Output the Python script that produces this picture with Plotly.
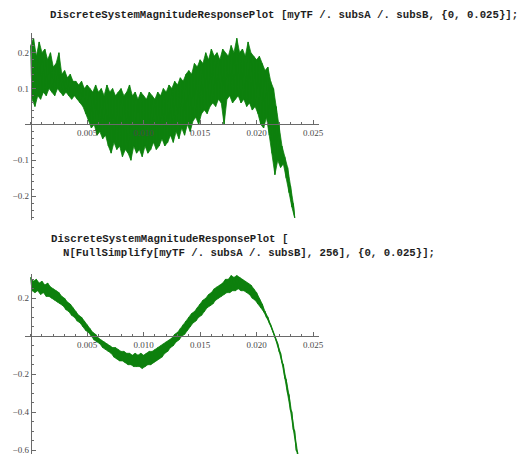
import plotly.graph_objects as go

# ---------------- data ----------------
STEP = 0.00025  # frequency sample step (upper/lower envelope samples)

# Plot 1: DiscreteSystemMagnitudeResponsePlot[myTF /. subsA /. subsB, {0, 0.025}]
p1_hi = [0.22, 0.24, 0.19, 0.23, 0.20, 0.21, 0.18, 0.20, 0.16, 0.17,
         0.20, 0.14, 0.15, 0.13, 0.14, 0.12, 0.12, 0.11, 0.12, 0.10,
         0.11, 0.10, 0.09, 0.11, 0.09, 0.10, 0.08, 0.11, 0.09, 0.10,
         0.08, 0.09, 0.10, 0.08, 0.09, 0.11, 0.08, 0.09, 0.07, 0.09,
         0.08, 0.07, 0.09, 0.08, 0.07, 0.09, 0.08, 0.10, 0.09, 0.11,
         0.10, 0.12, 0.11, 0.13, 0.12, 0.14, 0.15, 0.14, 0.17, 0.16,
         0.18, 0.17, 0.20, 0.18, 0.21, 0.19, 0.20, 0.18, 0.21, 0.20,
         0.19, 0.22, 0.20, 0.24, 0.20, 0.21, 0.19, 0.23, 0.20, 0.19,
         0.18, 0.19, 0.17, 0.15, 0.16, 0.12, 0.10, 0.05, 0.00, -0.06,
         -0.09, -0.12, -0.17, -0.22]
p1_lo = [0.07, 0.05, 0.08, 0.07, 0.09, 0.08, 0.10, 0.09, 0.08, 0.10,
         0.09, 0.08, 0.09, 0.08, 0.07, 0.08, 0.07, 0.06, 0.05, 0.03,
         0.01, -0.01, 0.00, -0.03, -0.02, -0.04, -0.03, -0.06, -0.08, -0.05,
         -0.07, -0.06, -0.09, -0.07, -0.08, -0.10, -0.06, -0.08, -0.07, -0.09,
         -0.06, -0.08, -0.07, -0.05, -0.07, -0.06, -0.04, -0.06, -0.05, -0.03,
         -0.05, -0.02, -0.04, -0.01, -0.03, 0.00, -0.02, 0.01, 0.02, 0.00,
         0.03, 0.04, 0.03, 0.05, 0.06, 0.05, 0.07, 0.06, 0.00, 0.07,
         0.08, 0.06, 0.07, 0.08, 0.06, 0.07, 0.05, 0.06, 0.04, 0.05,
         0.03, 0.00, -0.01, 0.02, -0.03, -0.08, -0.14, -0.10, -0.12, -0.11,
         -0.15, -0.19, -0.23, -0.26]

# Plot 2: DiscreteSystemMagnitudeResponsePlot[N[FullSimplify[...], 256], {0, 0.025}]
p2_hi = [0.31, 0.29, 0.30, 0.28, 0.29, 0.27, 0.28, 0.26, 0.25, 0.24,
         0.23, 0.21, 0.20, 0.18, 0.17, 0.15, 0.13, 0.11, 0.10, 0.08,
         0.06, 0.04, 0.02, 0.01, -0.01, -0.02, -0.03, -0.04, -0.05, -0.06,
         -0.06, -0.07, -0.08, -0.08, -0.09, -0.09, -0.10, -0.09, -0.10, -0.09,
         -0.10, -0.09, -0.08, -0.08, -0.07, -0.06, -0.05, -0.04, -0.03, -0.02,
         -0.01, 0.01, 0.02, 0.04, 0.06, 0.08, 0.10, 0.12, 0.13, 0.15,
         0.17, 0.19, 0.20, 0.22, 0.23, 0.25, 0.26, 0.27, 0.28, 0.30,
         0.30, 0.32, 0.31, 0.32, 0.31, 0.30, 0.29, 0.28, 0.27, 0.25,
         0.23, 0.20, 0.17, 0.13, 0.10, 0.06, 0.02, -0.03, -0.08, -0.14,
         -0.22, -0.30, -0.39, -0.49, -0.60, -0.72]
p2_lo = [0.24, 0.23, 0.24, 0.22, 0.23, 0.21, 0.21, 0.20, 0.19, 0.18,
         0.17, 0.16, 0.14, 0.13, 0.11, 0.10, 0.08, 0.07, 0.05, 0.03,
         0.02, 0.00, -0.02, -0.03, -0.04, -0.06, -0.07, -0.08, -0.09, -0.11,
         -0.12, -0.13, -0.13, -0.14, -0.15, -0.15, -0.16, -0.16, -0.16, -0.17,
         -0.16, -0.15, -0.15, -0.14, -0.13, -0.12, -0.11, -0.09, -0.08, -0.06,
         -0.05, -0.03, -0.02, 0.00, 0.01, 0.03, 0.05, 0.07, 0.08, 0.10,
         0.11, 0.13, 0.15, 0.16, 0.17, 0.19, 0.20, 0.21, 0.22, 0.23,
         0.23, 0.24, 0.24, 0.25, 0.24, 0.24, 0.23, 0.22, 0.20, 0.19,
         0.17, 0.15, 0.13, 0.10, 0.07, 0.04, 0.00, -0.04, -0.09, -0.15,
         -0.23, -0.31, -0.40, -0.50, -0.61, -0.72]

x_ticks = [0.005, 0.010, 0.015, 0.020, 0.025]
x_tick_labels = ["0.005", "0.010", "0.015", "0.020", "0.025"]
y1_ticks = [-0.2, -0.1, 0.1, 0.2]
y1_tick_labels = ["\u22120.2", "\u22120.1", "0.1", "0.2"]
y2_ticks = [-0.6, -0.4, -0.2, 0.2]
y2_tick_labels = ["\u22120.6", "\u22120.4", "\u22120.2", "0.2"]

code1 = "DiscreteSystemMagnitudeResponsePlot [myTF /. subsA /. subsB, {0, 0.025}];"
code2a = "DiscreteSystemMagnitudeResponsePlot ["
code2b = "N[FullSimplify[myTF /. subsA /. subsB], 256], {0, 0.025}];"


def zigzag(hi, lo):
    xs, ys = [], []
    for k, (h, l) in enumerate(zip(hi, lo)):
        xs += [k * STEP, k * STEP + STEP / 2]
        ys += [h, l]
    return xs, ys


def band(hi, lo):
    xh = [k * STEP for k in range(len(hi))]
    xl = [k * STEP + STEP / 2 for k in range(len(lo))]
    return xh + xl[::-1], list(hi) + list(lo)[::-1]


# ---------------- layout geometry ----------------
W, H = 531, 455
X_RANGE = [-0.000526, 0.025526]
X_DOMAIN = [25 / W, 322 / W]
Y1_RANGE = [-0.265, 0.255]
Y1_DOMAIN = [1 - 220 / H, 1 - 33 / H]
Y2_RANGE = [-0.621, 0.326]
Y2_DOMAIN = [0.0, 1 - 275 / H]


def zero_pos(rng, dom):
    return dom[0] + (0 - rng[0]) / (rng[1] - rng[0]) * (dom[1] - dom[0])


GREEN = "#0d800d"
AXC = "#6a6a6a"
TICKFONT = dict(family="Liberation Serif", size=9, color="#4a4a4a")

fig = go.Figure()
for hi, lo, xa, ya in [(p1_hi, p1_lo, "x", "y"), (p2_hi, p2_lo, "x2", "y2")]:
    bx, by = band(hi, lo)
    fig.add_trace(go.Scatter(x=bx, y=by, mode="lines", fill="toself", fillcolor=GREEN,
                             line=dict(color=GREEN, width=0.8),
                             xaxis=xa, yaxis=ya, showlegend=False, hoverinfo="skip"))
    zx, zy = zigzag(hi, lo)
    fig.add_trace(go.Scatter(x=zx, y=zy, mode="lines", line=dict(color=GREEN, width=1.2),
                             xaxis=xa, yaxis=ya, showlegend=False, hoverinfo="skip"))

xaxis_common = dict(
    range=X_RANGE, domain=X_DOMAIN, anchor="free", showgrid=False, zeroline=False,
    showline=True, linecolor=AXC, linewidth=1, ticks="inside", ticklen=4,
    tickcolor=AXC, tickwidth=1, tickmode="array", tickvals=x_ticks,
    ticktext=x_tick_labels, tickfont=TICKFONT, ticklabeloverflow="allow",
    minor=dict(tickmode="linear", tick0=0, dtick=0.001, ticks="inside",
               ticklen=2, tickcolor=AXC),
)
yaxis_common = dict(
    anchor="free", showgrid=False, zeroline=False, showline=True, linecolor=AXC,
    linewidth=1, ticks="inside", ticklen=4, tickcolor=AXC, tickwidth=1,
    tickmode="array", tickfont=TICKFONT, ticklabeloverflow="allow",
    position=zero_pos(X_RANGE, X_DOMAIN),
)

fig.update_layout(
    width=W, height=H, margin=dict(l=0, r=0, t=0, b=0),
    paper_bgcolor="white", plot_bgcolor="rgba(0,0,0,0)",
    xaxis=dict(**xaxis_common, position=zero_pos(Y1_RANGE, Y1_DOMAIN)),
    yaxis=dict(**yaxis_common, range=Y1_RANGE, domain=Y1_DOMAIN,
               tickvals=y1_ticks, ticktext=y1_tick_labels,
               minor=dict(tickmode="linear", tick0=0, dtick=0.02, ticks="inside",
                          ticklen=2, tickcolor=AXC)),
    xaxis2=dict(**xaxis_common, position=zero_pos(Y2_RANGE, Y2_DOMAIN)),
    yaxis2=dict(**yaxis_common, range=Y2_RANGE, domain=Y2_DOMAIN,
                tickvals=y2_ticks, ticktext=y2_tick_labels,
                minor=dict(tickmode="linear", tick0=0, dtick=0.05, ticks="inside",
                           ticklen=2, tickcolor=AXC)),
)

CODEFONT = dict(family="Liberation Mono", size=10.7, color="#1e1e1e", weight="bold")
for txt, px, py in [(code1, 48, 15), (code2a, 49, 240), (code2b, 62, 254)]:
    fig.add_annotation(text=txt, x=px / W, y=1 - py / H, xref="paper", yref="paper",
                       xanchor="left", yanchor="middle", showarrow=False, font=CODEFONT)

fig.write_html("out.html")
